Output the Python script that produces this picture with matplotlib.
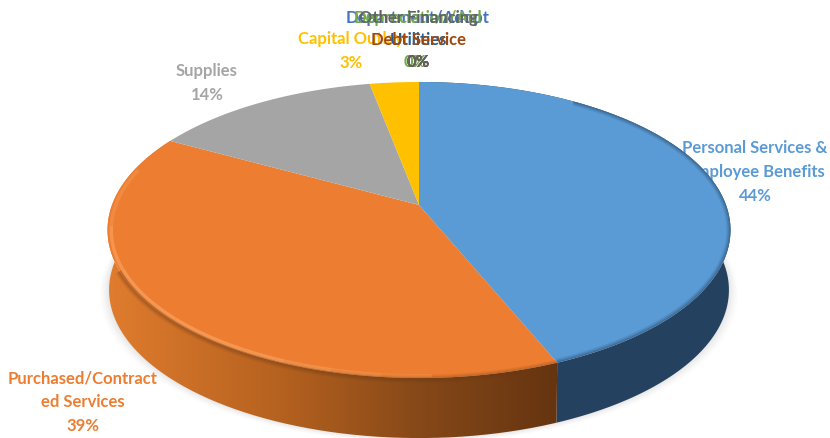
#!/usr/bin/env python3
import numpy as np
import matplotlib
matplotlib.use("Agg")
import matplotlib.pyplot as plt
from matplotlib.path import Path
from matplotlib.patches import PathPatch
from matplotlib.colors import LinearSegmentedColormap

# expenditure shares, percent of the pie
categories = ['Personal Services &\nEmployee Benefits', 'Purchased/Contract\ned Services',
              'Supplies', 'Capital Outlay']
values = [43.8, 39.2, 14.0, 3.0]
pct_labels = ['44%', '39%', '14%', '3%']
colors = ['#5b9bd5', '#ed7d31', '#a5a5a5', '#ffc000']

# the slices too small to see, their labels pile up at the top
small_names = ['Department/Adopt', 'Depreciation/Aid', 'Utilities', 'Debt Service', 'Other Financing']
small_colors = ['#4472c4', '#70ad47', '#255e91', '#9e480e', '#636363']
small_rows = [18, 18, 40, 40, 18]

plt.rcParams['font.family'] = ['Lato', 'DejaVu Sans']


def rim(a0, a1, depth=0.0, scale=1.0, n=300):
    # project a circle with perspective, a is clockwise from the top, in degrees
    t = np.radians(np.linspace(a0, a1, n))
    u, v = np.sin(t), -np.cos(t)
    w = 1 - 0.169 * v
    return 419 + scale * 307 * u / w, 205 + 143.8 * v / w + depth


fig = plt.figure(figsize=(8.3, 4.38), dpi=100)
ax = fig.add_axes([0, 0, 1, 1])
ax.set_xlim(0, 830)
ax.set_ylim(438, 0)
ax.axis('off')

edges = np.concatenate([[0], np.cumsum(values)]) * 3.6
depth = 60
wall_scale = 0.995

# text sits behind the pie, as in the original
label_pos = [(755, 172), (83, 402), (207, 83), (351, 51)]
for name, pct, col, pos in zip(categories, pct_labels, colors, label_pos):
    ax.text(pos[0], pos[1], name + '\n' + pct, color=col, fontsize=12, fontweight='bold',
            ha='center', va='center', linespacing=1.6, zorder=1)
for name, col, row in zip(small_names, small_colors, small_rows):
    ax.text(418, row, name, color=col, fontsize=12, fontweight='bold', ha='center', va='center', zorder=7)
    ax.text(418 if col != '#70ad47' else 415, 62, '0%', color=col, fontsize=12, fontweight='bold',
            ha='center', va='center', zorder=7)

# soft shadow below the wall
sx, sy = rim(70, 290, depth, wall_scale)
for grow, alpha in zip([9, 7, 5, 3, 1], [0.02, 0.03, 0.04, 0.05, 0.06]):
    ax.fill(419 + (sx - 419) * (1 + grow / 312), sy + grow * 0.5, color='#808080', alpha=alpha, lw=0, zorder=2)

# side wall, blue is flat and dark, orange runs from orange to brown
x0, y0 = rim(0, edges[1])
x1, y1 = rim(0, edges[1], depth, wall_scale)
ax.fill(np.r_[x0, x1[::-1]], np.r_[y0, y1[::-1]], color='#24425f', lw=0, zorder=3)

x0, y0 = rim(edges[1], edges[2])
x1, y1 = rim(edges[1], edges[2], depth, wall_scale)
wall = Path(np.c_[np.r_[x0, x1[::-1]], np.r_[y0, y1[::-1]]])
wall_cmap = LinearSegmentedColormap.from_list(
    'wall', [(0, '#653410'), (0.3, '#854818'), (0.6, '#b3601f'), (1, '#e07c2e')])
grad = ax.imshow(np.linspace(0, 1, 256)[None, :], cmap=wall_cmap, extent=[557, 107, 438, 0],
                 aspect='auto', zorder=3)
grad.set_clip_path(PathPatch(wall, transform=ax.transData))

# top face
for a0, a1, col in zip(edges[:-1], edges[1:], colors):
    x, y = rim(a0, a1)
    ax.fill(np.r_[419, x], np.r_[205, y], color=col, lw=0, zorder=4)

# bevel strokes along the upper rim stay inside the top face
tx, ty = rim(0, 360)
face = PathPatch(Path(np.c_[tx, ty]), transform=ax.transData)

# soft dark blur along the rim
x, y = rim(35, edges[1])
for lw, alpha in zip([6, 4, 2], [0.12, 0.18, 0.25]):
    line, = ax.plot(x, y, color='#1f3d5c', lw=lw, alpha=alpha, zorder=5, solid_capstyle='butt')
    line.set_clip_path(face)
x, y = rim(edges[1], 245)
for lw, alpha in zip([6, 4, 2], [0.10, 0.14, 0.18]):
    ax.plot(x, y + 1, color='#6b3813', lw=lw, alpha=alpha, zorder=5, solid_capstyle='butt')

# light band on the orange, it fades out toward the front
bands = [(178, 0.15), (186, 0.3), (194, 0.45), (202, 0.6), (210, 0.75), (225, 0.8), (245, 0.8), (262, 0.7), (285, 0.4)]
for (a0, _), (a1, alpha) in zip(bands[:-1], bands[1:]):
    x, y = rim(a0, a1, n=40)
    x = 419 + (x - 419) * 0.988
    y = 227 + (y - 227) * 0.985
    ax.plot(x, y, color='#f9a05a', lw=2.5, alpha=alpha, zorder=5, solid_capstyle='butt')

ax.set_xlim(0, 830)
ax.set_ylim(438, 0)
fig.savefig('out.png', dpi=100)
